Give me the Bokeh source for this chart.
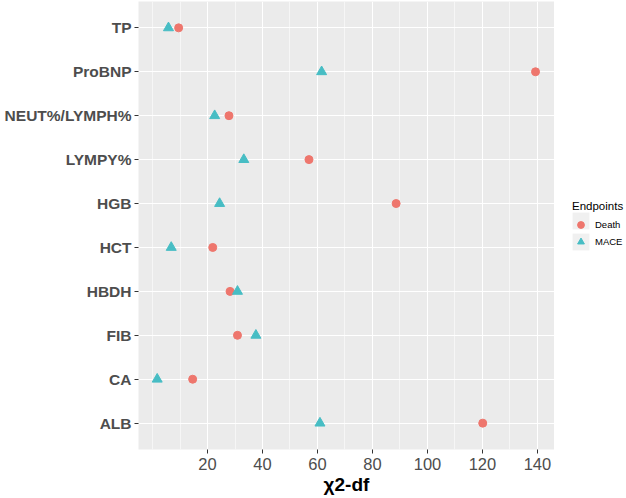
from bokeh.plotting import figure
from bokeh.layouts import row
from bokeh.models import Range1d, FactorRange, FixedTicker, Legend, LegendItem, ColumnDataSource
from bokeh.embed import file_html
from bokeh.resources import INLINE

# ---- data ----
markers = ["TP", "ProBNP", "NEUT%/LYMPH%", "LYMPY%", "HGB", "HCT", "HBDH", "FIB", "CA", "ALB"]
death = [9.5, 139.3, 27.8, 56.9, 88.6, 21.9, 28.2, 30.9, 14.6, 120.1]
mace = [5.8, 61.5, 22.6, 33.2, 24.4, 6.8, 30.9, 37.6, 1.7, 60.9]
x_ticks = [20, 40, 60, 80, 100, 120, 140]
x_minor = [0, 10, 30, 50, 70, 90, 110, 130]
series_names = ["Death", "MACE"]
legend_title = "Endpoints"

FONT = "Liberation Sans"
DEATH_COLOR = "#EE766D"
MACE_COLOR = "#47BDC4"

y_range = FactorRange(factors=list(reversed(markers)), range_padding=0.02, range_padding_units="percent")

p = figure(width=554, height=498, x_range=Range1d(-5.1, 146.2), y_range=y_range,
           output_backend="svg", toolbar_location=None,
           min_border_left=138, min_border_right=0, min_border_top=1, min_border_bottom=49)

p.background_fill_color = "#EBEBEB"
p.border_fill_color = "white"
p.outline_line_color = None

ticker = FixedTicker(ticks=x_ticks, minor_ticks=x_minor)
p.xaxis.ticker = ticker
p.xgrid.ticker = ticker
p.xgrid.grid_line_color = "white"
p.xgrid.grid_line_width = 1.1
p.xgrid.minor_grid_line_color = "white"
p.xgrid.minor_grid_line_width = 0.55
p.ygrid.grid_line_color = "white"
p.ygrid.grid_line_width = 1.1

for ax in (p.xaxis[0], p.yaxis[0]):
    ax.axis_line_color = None
    ax.major_tick_line_color = "#333333"
    ax.major_tick_out = 4
    ax.major_tick_in = 0
    ax.minor_tick_line_color = None
    ax.major_label_text_font = FONT
    ax.major_label_text_color = "#4D4D4D"

p.xaxis.major_label_text_font_size = "16.5px"
p.xaxis.major_label_standoff = 4
p.xaxis.axis_label = "χ2-df"
p.xaxis.axis_label_text_font = FONT
p.xaxis.axis_label_text_font_style = "bold"
p.xaxis.axis_label_text_font_size = "19px"
p.xaxis.axis_label_text_color = "black"
p.xaxis.axis_label_standoff = 1

p.yaxis.major_label_text_font_size = "15.5px"
p.yaxis.major_label_text_font_style = "bold"
p.yaxis.major_label_standoff = 3

src = ColumnDataSource(dict(marker=markers, death=death, mace=mace))

p.scatter(x="death", y="marker", source=src, marker="circle", size=8,
          fill_color=DEATH_COLOR, line_color=DEATH_COLOR)
p.scatter(x="mace", y="marker", source=src, marker="triangle", size=10,
          fill_color=MACE_COLOR, line_color=MACE_COLOR)

# ---- legend panel (separate small figure on the right) ----
lg = figure(width=72, height=498, x_range=Range1d(0, 1), y_range=Range1d(0, 1),
            output_backend="svg", toolbar_location=None,
            x_axis_location=None, y_axis_location=None,
            min_border_left=0, min_border_right=0, min_border_top=0, min_border_bottom=0)
lg.outline_line_color = None
lg.grid.visible = False
lg.background_fill_color = "white"
lg.border_fill_color = "white"

bg1 = lg.rect(x=[-10], y=[-10], width=1, height=1, fill_color="#F0F0F0", line_color=None)
bg2 = lg.rect(x=[-10], y=[-10], width=1, height=1, fill_color="#F0F0F0", line_color=None)
k1 = lg.scatter(x=[-10], y=[-10], marker="circle", size=8, fill_color=DEATH_COLOR, line_color=DEATH_COLOR)
k2 = lg.scatter(x=[-10], y=[-10], marker="triangle", size=10, fill_color=MACE_COLOR, line_color=MACE_COLOR)


def style(leg, glyph, spacing):
    leg.title_text_font = FONT
    leg.title_text_font_style = "normal"
    leg.title_text_font_size = "11.5px"
    leg.title_text_color = "black"
    leg.title_standoff = 4
    leg.label_text_font = FONT
    leg.label_text_font_size = "9.5px"
    leg.label_text_color = "black"
    leg.label_standoff = 6
    leg.label_height = glyph
    leg.glyph_width = glyph
    leg.glyph_height = glyph
    leg.spacing = spacing
    leg.padding = 0
    leg.margin = 0
    leg.background_fill_alpha = 0
    leg.border_line_color = None


# key backgrounds (grey boxes, no text)
leg_bg = Legend(items=[LegendItem(label=" ", renderers=[bg1]),
                       LegendItem(label=" ", renderers=[bg2])],
                location=(16, 197))
style(leg_bg, 21, -4)
leg_bg.label_width = 1
leg_bg.label_standoff = 0
# key symbols, labels and title
leg_fg = Legend(items=[LegendItem(label=series_names[0], renderers=[k1]),
                       LegendItem(label=series_names[1], renderers=[k2])],
                location=(18, 199))
style(leg_fg, 17, 0)
leg_fg.title = legend_title

lg.add_layout(leg_bg)
lg.add_layout(leg_fg)

layout = row(p, lg)
open("out.html", "w").write(file_html(layout, INLINE))
